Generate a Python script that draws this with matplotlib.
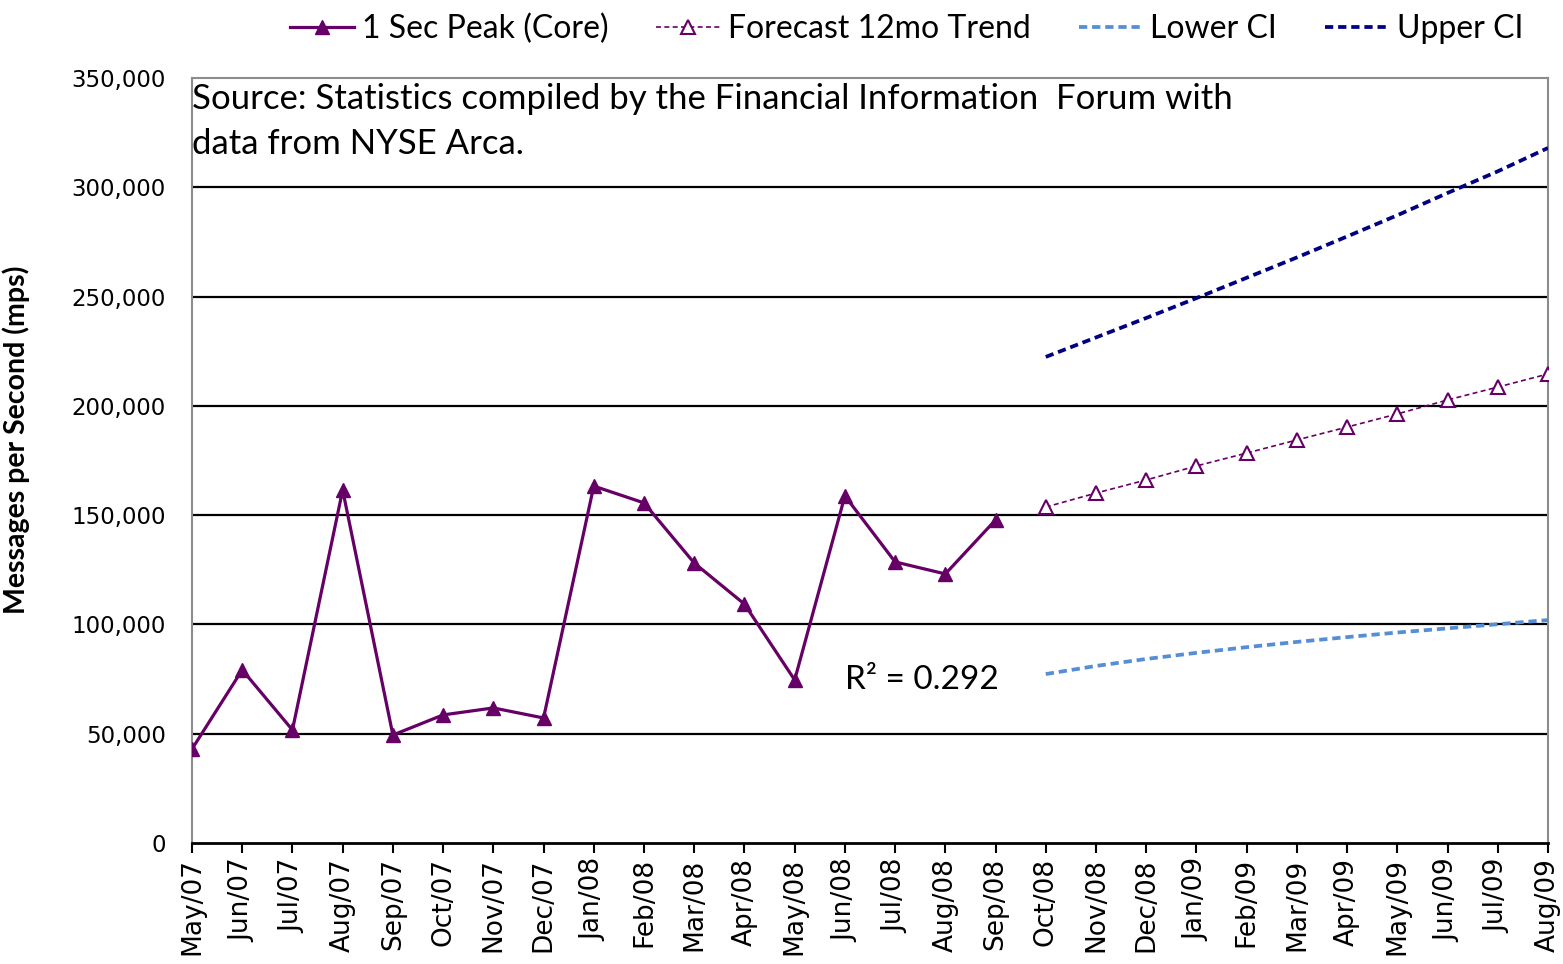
import matplotlib
matplotlib.use("Agg")
import matplotlib.pyplot as plt
import numpy as np
from matplotlib.ticker import FuncFormatter

months = ["May/07", "Jun/07", "Jul/07", "Aug/07", "Sep/07", "Oct/07", "Nov/07", "Dec/07",
          "Jan/08", "Feb/08", "Mar/08", "Apr/08", "May/08", "Jun/08", "Jul/08", "Aug/08",
          "Sep/08", "Oct/08", "Nov/08", "Dec/08", "Jan/09", "Feb/09", "Mar/09", "Apr/09",
          "May/09", "Jun/09", "Jul/09", "Aug/09"]

core_peak = [43000, 79200, 51700, 161500, 49400, 58600, 61800, 57200, 163300, 155600,
             128100, 109300, 74600, 158800, 128600, 123100, 147800]
forecast = [153700, 160100, 166100, 172500, 178400, 184400, 190300, 196300, 202700,
            208600, 214600]
lower_ci = [77300, 81000, 84200, 87000, 89600, 92000, 94200, 96300, 98200, 100100, 102000]
upper_ci = [222400, 231300, 240200, 249300, 258600, 267900, 277500, 287200, 297400,
            307300, 318000]

PURPLE = "#660066"
LIGHTBLUE = "#558ED5"
NAVY = "#000080"
CAL = ["Lato", "DejaVu Sans"]

fig = plt.figure(figsize=(15.63, 9.64), dpi=100)
ax = fig.add_axes([192/1563, 1-843/964, (1548-192)/1563, (843-78)/964])

x = np.arange(len(months))
xc = x[:len(core_peak)]
xf = x[len(core_peak):len(core_peak)+len(forecast)]

l1, = ax.plot(xc, core_peak, color=PURPLE, lw=2.3, marker="^", ms=10, label="1 Sec Peak (Core)", zorder=5)
l2, = ax.plot(xf, forecast, color=PURPLE, lw=1.2, ls=(0, (3, 2)), marker="^", ms=9.5,
              mfc="white", mec=PURPLE, mew=1.5, label="Forecast 12mo Trend", zorder=5)
l3, = ax.plot(xf, lower_ci, color=LIGHTBLUE, lw=2.7, ls=(0, (2.2, 1.3)), label="Lower CI", zorder=4)
l4, = ax.plot(xf, upper_ci, color=NAVY, lw=2.7, ls=(0, (2.2, 1.3)), label="Upper CI", zorder=4)

ax.set_xlim(0, len(months)-1)
ax.set_ylim(0, 350000)
ax.set_yticks(np.arange(0, 350001, 50000))
ax.yaxis.set_major_formatter(FuncFormatter(lambda v, p: f"{int(v):,}"))
ax.set_xticks(x)
ax.set_xticklabels(months, rotation=90, fontsize=19, family="DejaVu Sans")
for t in ax.get_yticklabels():
    t.set_fontsize(16.5)
    t.set_family("DejaVu Sans")
ax.tick_params(axis="y", length=0, pad=19)
ax.tick_params(axis="x", length=7, width=1.5, direction="out", pad=4)

for v in range(50000, 350000, 50000):
    ax.axhline(v, color="black", lw=1.6, zorder=1)

for s in ["left", "top", "right"]:
    ax.spines[s].set_color("#8c8c8c")
    ax.spines[s].set_linewidth(1.5)
ax.spines["bottom"].set_color("black")
ax.spines["bottom"].set_linewidth(2)

ax.set_ylabel("Messages per Second (mps)", fontsize=20.5, fontweight="bold", family=CAL)
ax.yaxis.set_label_coords(-0.130, 0.527)
ax.yaxis.label.set_va("center")

ax.text(0.0, 0.993, "Source: Statistics compiled by the Financial Information  Forum with\ndata from NYSE Arca.",
        transform=ax.transAxes, ha="left", va="top", fontsize=25, family=CAL, linespacing=1.5)
ax.text(16.06, 74600, "R² = 0.292", ha="right", va="center", fontsize=24, family=CAL)

fig.legend(handles=[l1, l2, l3, l4], loc="upper center", bbox_to_anchor=(0.58, 1.016), ncol=4,
           frameon=False, prop={"family": CAL, "size": 23}, handlelength=2.0,
           handletextpad=0.25, columnspacing=1.5)

fig.savefig("out.png", dpi=100)
